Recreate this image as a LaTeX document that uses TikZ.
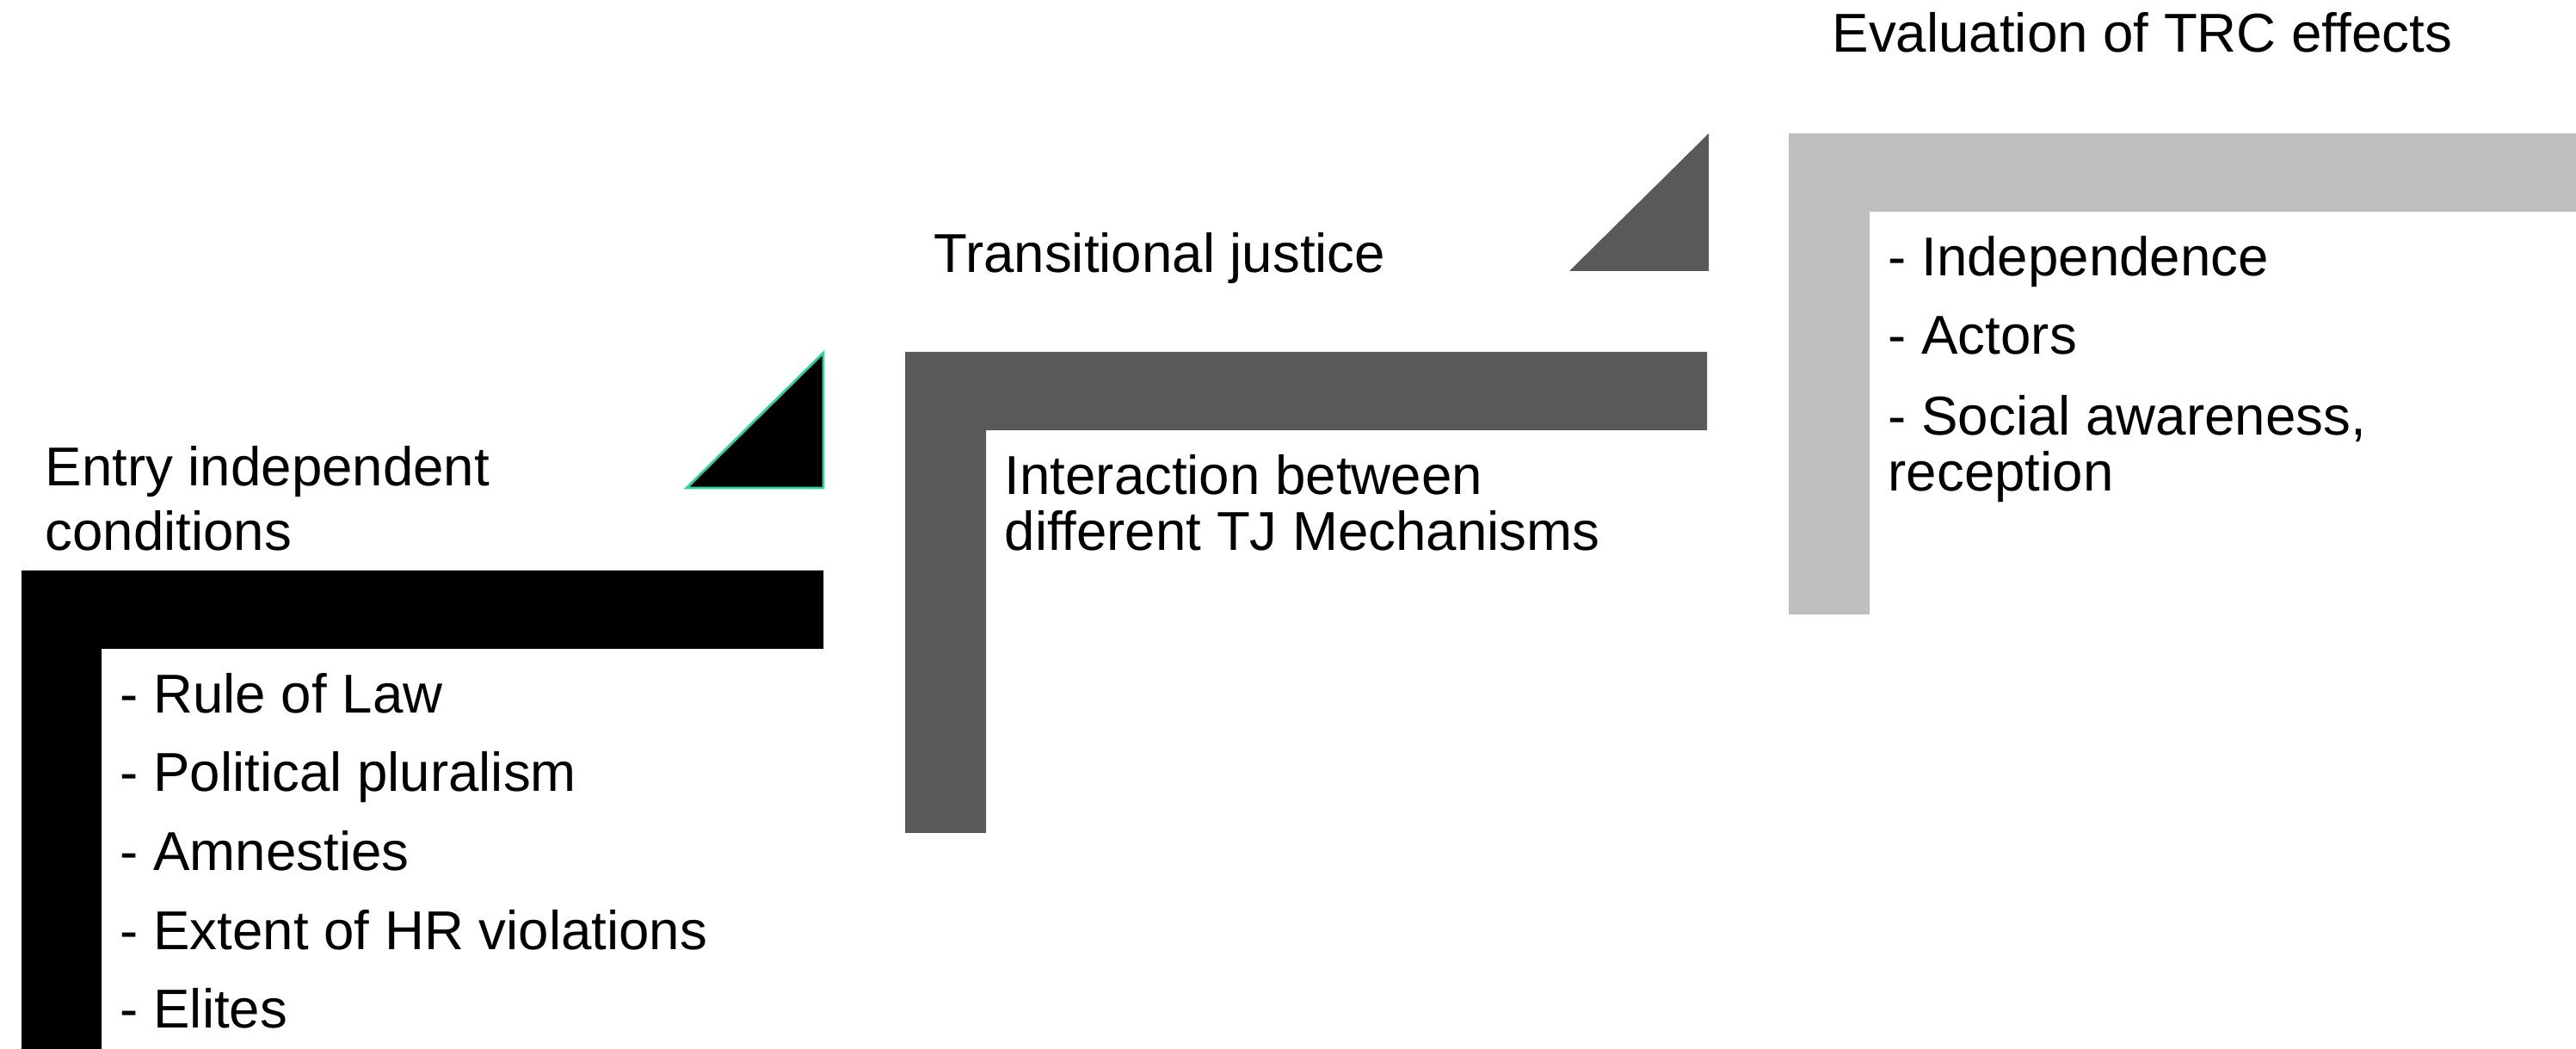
\documentclass[tikz,border=0pt]{standalone}
\usepackage{fontspec}
\setmainfont{Liberation Sans}
\definecolor{darkbar}{HTML}{595959}
\definecolor{lightbar}{HTML}{BFBFBF}
\definecolor{edgegreen}{HTML}{2ED3A0}
\begin{document}
\begin{tikzpicture}[lbl/.style={anchor=base west,inner sep=0pt,font=\fontsize{18.1}{21}\selectfont}]
\useasboundingbox (0,0) rectangle (29.94,12.19);
%\draw[step=1cm,gray,very thin] (0,0) grid (30,12); %background grid
\fill[black] (0.25,0) -- (0.25,5.56) -- (9.57,5.56) -- (9.57,4.65) -- (1.18,4.65) -- (1.18,0) -- cycle; %entry
\draw[edgegreen,line width=0.8pt,fill=black] (7.98,6.52) -- (9.57,6.52) -- (9.57,8.09) -- cycle;
\fill[darkbar] (10.52,2.51) -- (10.52,8.10) -- (19.84,8.10) -- (19.84,7.19) -- (11.46,7.19) -- (11.46,2.51) -- cycle; %TJ
\fill[darkbar] (18.24,9.04) -- (19.86,9.04) -- (19.86,10.64) -- cycle;
\fill[lightbar] (20.79,5.05) -- (20.79,10.64) -- (29.94,10.64) -- (29.94,9.73) -- (21.73,9.73) -- (21.73,5.05) -- cycle; %TRC
\node[lbl] (entry1) at (0.52,6.54) {Entry independent};
\node[lbl] (entry2) at (0.52,5.79) {conditions};
\node[lbl] (law) at (1.39,3.90) {- Rule of Law};
\node[lbl] (plural) at (1.39,2.99) {- Political pluralism};
\node[lbl] (amnesty) at (1.39,2.07) {- Amnesties};
\node[lbl] (hr) at (1.39,1.15) {- Extent of HR violations};
\node[lbl] (elites) at (1.39,0.24) {- Elites};
\node[lbl] (tj) at (10.85,9.02) {Transitional justice};
\node[lbl] (inter1) at (11.67,6.44) {Interaction between};
\node[lbl] (inter2) at (11.67,5.79) {different TJ Mechanisms};
\node[lbl] (trc) at (21.29,11.58) {Evaluation of TRC effects};
\node[lbl] (indep) at (21.94,8.98) {- Independence};
\node[lbl] (actors) at (21.94,8.07) {- Actors};
\node[lbl] (social) at (21.94,7.13) {- Social awareness,};
\node[lbl] (recep) at (21.94,6.48) {reception};
\end{tikzpicture}
\end{document}
